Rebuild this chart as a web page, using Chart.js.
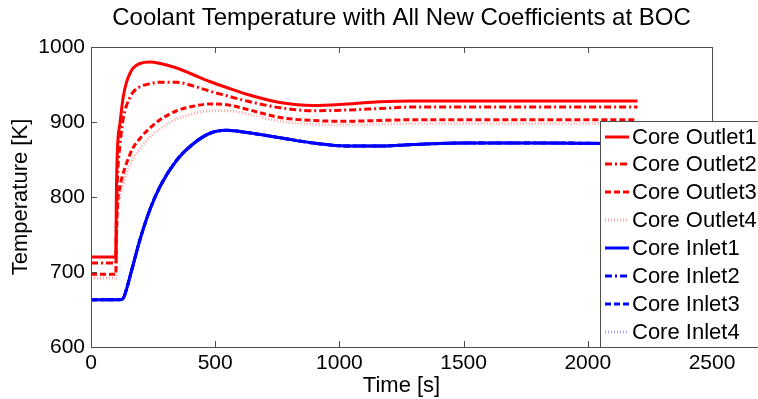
<!DOCTYPE html>
<html>
<head>
<meta charset="utf-8">
<style>
  html, body { margin: 0; padding: 0; background: #fff; }
  #wrap { width: 758px; height: 399px; }
</style>
<script src="https://cdn.jsdelivr.net/npm/chart.js@4/dist/chart.umd.min.js"></script>
</head>
<body>
<div id="wrap"><canvas id="chartCoolant"></canvas></div>
<script>
/* Coolant temperature transient */

const TITLE = 'Coolant Temperature with All New Coefficients at BOC';
const X_LABEL = 'Time [s]';
const Y_LABEL = 'Temperature [K]';

const timeS = [0, 100, 102, 106, 117, 130, 143, 157, 170, 197, 237, 278, 345, 412, 479, 546, 627, 761, 894, 1030, 1163, 1300, 1500, 1800, 2200];

const outlet1 = [720, 720, 800, 860, 899, 934, 953, 965, 972, 978, 980, 978, 972, 963, 954, 946, 937, 926, 922, 924, 927, 928, 928, 928, 928];
const outlet2 = [712, 712, 760, 820, 870, 905, 922, 933, 940, 947, 951, 953, 953, 948, 941, 935, 928, 919, 915, 916, 918, 920, 920, 920, 920];
const outlet3 = [697, 697, 740, 785, 814, 832, 845, 857, 866, 878, 892, 903, 915, 921, 924, 923, 917, 906, 902, 901, 902, 903, 903, 903, 903];
const outlet4 = [692, 692, 720, 770, 800, 818, 832, 843, 852, 864, 880, 891, 904, 911, 915, 915, 911, 901, 897, 896, 897, 898, 898, 898, 898];
const inlet1  = [663, 663, 663, 663, 663, 665, 677, 694, 710, 743, 783, 814, 849, 871, 885, 889, 886, 879, 872, 868, 868, 870, 872, 872, 871];
const inlet2  = [663, 663, 663, 663, 663, 665, 677, 694, 710, 743, 783, 814, 849, 871, 885, 889, 886, 879, 872, 868, 868, 870, 872, 872, 871];
const inlet3  = [663, 663, 663, 663, 663, 665, 677, 694, 710, 743, 783, 814, 849, 871, 885, 889, 886, 879, 872, 868, 868, 870, 872, 872, 871];
const inlet4  = [663, 663, 663, 663, 663, 665, 677, 694, 710, 743, 783, 814, 849, 871, 885, 889, 886, 879, 872, 868, 868, 870, 872, 872, 871];

const X_TICKS = [0, 500, 1000, 1500, 2000, 2500];
const Y_TICKS = [600, 700, 800, 900, 1000];

const RED = '#FF0000';
const RED_LIGHT = 'rgba(255, 60, 60, 0.45)';
const BLUE = '#0000FF';
const BLUE_LIGHT = 'rgba(60, 60, 255, 0.45)';
const AXIS = '#4d4d4d';
const FONT = "'Liberation Sans', Arial, sans-serif";

const DASH_DOT = [7, 3, 2, 3];
const DASHED = [6, 3];
const DOTTED = [1, 2];

function series(label, values, color, dash) {
  return {
    label,
    data: values.map((v, i) => ({ x: timeS[i], y: v })),
    borderColor: color,
    backgroundColor: color,
    borderWidth: 3,
    borderDash: dash,
    pointRadius: 0,
    fill: false,
    cubicInterpolationMode: 'monotone',
  };
}

/* box round the axes, inward tick marks, legend box over the plot */
const matlabAxes = {
  id: 'matlabAxes',
  afterDatasetsDraw(chart) {
    const { ctx, chartArea: a, scales } = chart;
    ctx.save();
    ctx.strokeStyle = AXIS;
    ctx.lineWidth = 1;
    ctx.strokeRect(a.left + 0.5, a.top + 0.5, a.right - a.left, a.bottom - a.top);
    const len = 6;
    ctx.beginPath();
    scales.x.ticks.forEach(t => {
      const px = Math.round(scales.x.getPixelForValue(t.value)) + 0.5;
      ctx.moveTo(px, a.bottom); ctx.lineTo(px, a.bottom - len);
      ctx.moveTo(px, a.top); ctx.lineTo(px, a.top + len);
    });
    scales.y.ticks.forEach(t => {
      const py = Math.round(scales.y.getPixelForValue(t.value)) + 0.5;
      ctx.moveTo(a.left, py); ctx.lineTo(a.left + len, py);
      ctx.moveTo(a.right, py); ctx.lineTo(a.right - len, py);
    });
    ctx.stroke();

    // legend
    const lx = 600, ly = 121, lw = 200, lh = 226;
    ctx.fillStyle = '#fff';
    ctx.fillRect(lx, ly, lw, lh);
    ctx.strokeRect(lx + 0.5, ly + 0.5, lw, lh);
    ctx.font = '22px ' + FONT;
    ctx.textBaseline = 'middle';
    ctx.textAlign = 'left';
    chart.data.datasets.forEach((ds, i) => {
      const y = Math.round(ly + 15.5 + i * 27.9);
      ctx.strokeStyle = ds.borderColor;
      ctx.lineWidth = ds.borderWidth;
      ctx.setLineDash(ds.borderDash || []);
      ctx.beginPath();
      ctx.moveTo(605, y); ctx.lineTo(629, y);
      ctx.stroke();
      ctx.setLineDash([]);
      ctx.fillStyle = '#000';
      ctx.fillText(ds.label, 632, y + 1);
    });
    ctx.restore();
  },
};

new Chart(document.getElementById('chartCoolant'), {
  type: 'line',
  data: {
    datasets: [
      series('Core Outlet1', outlet1, RED, []),
      series('Core Outlet2', outlet2, RED, DASH_DOT),
      series('Core Outlet3', outlet3, RED, DASHED),
      series('Core Outlet4', outlet4, RED_LIGHT, DOTTED),
      series('Core Inlet1', inlet1, BLUE, []),
      series('Core Inlet2', inlet2, BLUE, DASH_DOT),
      series('Core Inlet3', inlet3, BLUE, DASHED),
      series('Core Inlet4', inlet4, BLUE_LIGHT, DOTTED),
    ],
  },
  options: {
    responsive: true,
    maintainAspectRatio: false,
    animation: false,
    layout: { padding: { right: 46, left: 0, bottom: 0, top: 0 } },
    plugins: {
      legend: { display: false },
      tooltip: { enabled: false },
      title: {
        display: true,
        text: TITLE,
        fullSize: false,
        color: '#000',
        font: { family: FONT, size: 24, weight: 'normal' },
        padding: { top: 4, bottom: 14.2 },
      },
    },
    scales: {
      x: {
        type: 'linear',
        min: 0,
        max: 2500,
        afterBuildTicks: (s) => { s.ticks = X_TICKS.map(v => ({ value: v })); },
        afterFit: (s) => { s.height = 52; },
        grid: { display: false, drawTicks: false },
        border: { display: false },
        ticks: { color: '#000', padding: 4, maxRotation: 0, font: { family: FONT, size: 21 }, callback: (v) => String(v) },
        title: { display: true, text: X_LABEL, color: '#000', padding: { top: 0, bottom: 0 }, font: { family: FONT, size: 22 } },
      },
      y: {
        min: 600,
        max: 1000,
        afterBuildTicks: (s) => { s.ticks = Y_TICKS.map(v => ({ value: v })); },
        afterFit: (s) => { s.width = 91; },
        grid: { display: false, drawTicks: false },
        border: { display: false },
        ticks: { color: '#000', padding: 6, font: { family: FONT, size: 21 }, callback: (v) => String(v) },
        title: { display: true, text: Y_LABEL, color: '#000', padding: { top: 8, bottom: 0 }, font: { family: FONT, size: 22 } },
      },
    },
  },
  plugins: [matlabAxes],
});
</script>
</body>
</html>
